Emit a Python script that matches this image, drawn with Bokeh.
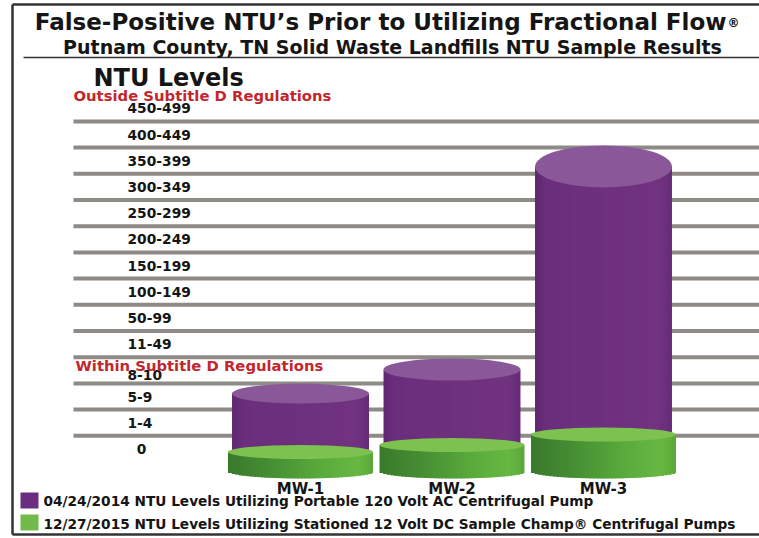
import numpy as np
from bokeh.plotting import figure
from bokeh.models import Range1d, ColumnDataSource
from bokeh.embed import file_html
from bokeh.resources import INLINE
from bokeh.core.properties import value

# ---------------- data ----------------
wells = ["MW-1", "MW-2", "MW-3"]
well_pos = [1, 2, 3]
level_labels = ["0", "1-4", "5-9", "8-10", "11-49", "50-99", "100-149", "150-199",
                "200-249", "250-299", "300-349", "350-399", "400-449", "450-499"]
# heights read on the level scale (0 = "0" band, 1 = "1-4" band, ...)
ntu_2014 = [2.11, 3.03, 10.78]
ntu_2015 = [-0.12, 0.15, 0.55]
series_labels = ["04/24/2014 NTU Levels Utilizing Portable 120 Volt AC Centrifugal Pump",
                 "12/27/2015 NTU Levels Utilizing Stationed 12 Volt DC Sample Champ\u00ae Centrifugal Pumps"]
title_text = "False-Positive NTU\u2019s Prior to Utilizing Fractional Flow"
subtitle_text = "Putnam County, TN Solid Waste Landfills NTU Sample Results"

# ---------------- layout helpers ----------------
W, H = 759, 538
PXX, PXY = 151.5, 26.2          # px per unit
def xd(cx):  # canvas px -> data x
    return 1 + (cx - 300) / PXX
def yd(cy):
    return (448.4 - cy) / PXY

p = figure(width=W, height=H, output_backend="svg", toolbar_location=None,
           x_range=Range1d(xd(0), xd(W)), y_range=Range1d(yd(H), yd(0)),
           min_border=0, background_fill_color="white", border_fill_color="white")
p.axis.visible = False
p.grid.visible = False
p.outline_line_color = None

FONT = value("DejaVu Sans")
DARK = "#151515"
RED = "#c1272d"

def interp(stops, t):
    for (t0, c0), (t1, c1) in zip(stops[:-1], stops[1:]):
        if t <= t1:
            f = (t - t0) / (t1 - t0) if t1 > t0 else 0
            a = np.array([int(c0[i:i + 2], 16) for i in (1, 3, 5)])
            b = np.array([int(c1[i:i + 2], 16) for i in (1, 3, 5)])
            c = (a + (b - a) * f).round().astype(int)
            return "#%02x%02x%02x" % tuple(c)
    return stops[-1][1]

GREEN_STOPS = [(0, "#3a792c"), (0.3, "#468f33"), (0.65, "#5aab3c"), (0.9, "#67b842"), (1.0, "#5aa63a")]
PURPLE_STOPS = [(0, "#5d276f"), (0.08, "#6b2e7d"), (0.9, "#71337f"), (1.0, "#662b78")]

# frame lines
p.segment(x0=[xd(12), xd(12), xd(12)], y0=[yd(4), yd(4), yd(534)],
          x1=[xd(12), xd(760), xd(760)], y1=[yd(534), yd(4), yd(534)],
          line_color="#333333", line_width=2.5)
# separator under subtitle
p.segment(x0=[xd(23)], y0=[yd(57)], x1=[xd(760)], y1=[yd(57)], line_color="#333333", line_width=1.5)

# gridlines between level bands
grid_y = [i + 0.5 for i in range(len(level_labels) - 1)]
p.segment(x0=[xd(73)] * len(grid_y), y0=grid_y, x1=[xd(760)] * len(grid_y), y1=grid_y,
          line_color="#8e8a85", line_width=4)

# level labels
lx = [xd(141) if lab == "0" else xd(127) for lab in level_labels]
align = ["center" if lab == "0" else "left" for lab in level_labels]
yoff = [5 if lab == "8-10" else 0 for lab in level_labels]
src_lab = ColumnDataSource(dict(x=lx, y=list(range(len(level_labels))), t=level_labels, a=align, yo=yoff))
p.text(x="x", y="y", text="t", source=src_lab, text_align="a", text_baseline="middle",
       y_offset="yo", text_font=FONT, text_font_style="bold", text_font_size="13.8px", text_color=DARK)

# cylinders
PW, GW = 0.904, 0.957                  # widths (data units)
PELL = [20 / PXY, 22 / PXY, 42 / PXY]  # top-ellipse heights for purple
GELL = 14 / PXY
BASE = -0.86
N = 40
for xc, top14, top15, pe in zip(well_pos, ntu_2014, ntu_2015, PELL):
    # purple body strips
    edges = np.linspace(xc - PW / 2, xc + PW / 2, N + 1)
    sw = edges[1] - edges[0]
    rights = np.minimum(edges[1:] + 0.7 * sw, xc + PW / 2)
    cols = [interp(PURPLE_STOPS, (k + 0.5) / N) for k in range(N)]
    p.quad(left=edges[:-1], right=rights, bottom=[top15] * N, top=[top14] * N,
           fill_color=cols, line_color=None)
    p.ellipse(x=[xc], y=[top14], width=PW, height=pe, fill_color="#8a5898", line_color=None)
    # green body strips with curved bottom
    edges = np.linspace(xc - GW / 2, xc + GW / 2, N + 1)
    sw = edges[1] - edges[0]
    rights = np.minimum(edges[1:] + 0.7 * sw, xc + GW / 2)
    mids = (edges[:-1] + edges[1:]) / 2
    dx = (mids - xc) / (GW / 2)
    bots = BASE - (GELL / 2) * np.sqrt(np.clip(1 - dx ** 2, 0, 1))
    cols = [interp(GREEN_STOPS, (k + 0.5) / N) for k in range(N)]
    p.quad(left=edges[:-1], right=rights, bottom=bots, top=[top15] * N,
           fill_color=cols, line_color=None)
    p.ellipse(x=[xc], y=[top15], width=GW, height=GELL, fill_color="#7dc150", line_color=None)

# well labels
p.text(x=well_pos, y=[yd(488)] * 3, text=wells, text_align="center", text_baseline="middle",
       text_font=FONT, text_font_style="bold", text_font_size="15px", text_color=DARK)

# titles and annotations
p.text(x=[xd(726)], y=[yd(21)], text=[title_text], text_align="right", text_baseline="middle",
       text_font=FONT, text_font_style="bold", text_font_size="23px", text_color=DARK)
p.text(x=[xd(727)], y=[yd(22)], text=["\u00ae"], text_align="left", text_baseline="middle",
       text_font=FONT, text_font_style="bold", text_font_size="12px", text_color=DARK)
p.text(x=[xd(392)], y=[yd(46)], text=[subtitle_text], text_align="center", text_baseline="middle",
       text_font=FONT, text_font_style="bold", text_font_size="19px", text_color=DARK)
p.text(x=[xd(93)], y=[yd(77)], text=["NTU Levels"], text_align="left", text_baseline="middle",
       text_font=FONT, text_font_style="bold", text_font_size="24px", text_color=DARK)
p.text(x=[xd(73), xd(75)], y=[yd(95), yd(365)],
       text=["Outside Subtitle D Regulations", "Within Subtitle D Regulations"],
       text_align="left", text_baseline="middle",
       text_font=FONT, text_font_style="bold", text_font_size="14.8px", text_color=RED)

# legend
p.quad(left=[xd(20)] * 2, right=[xd(38)] * 2, bottom=[yd(508), yd(530)], top=[yd(492), yd(514)],
       fill_color=["#6a2d80", "#72bb4a"], line_color=None)
p.text(x=[xd(43)] * 2, y=[yd(500), yd(523)], text=series_labels, text_align="left",
       text_baseline="middle", text_font=FONT, text_font_style="bold", text_font_size="13.7px",
       text_color=DARK)

open("out.html", "w").write(file_html(p, INLINE))
